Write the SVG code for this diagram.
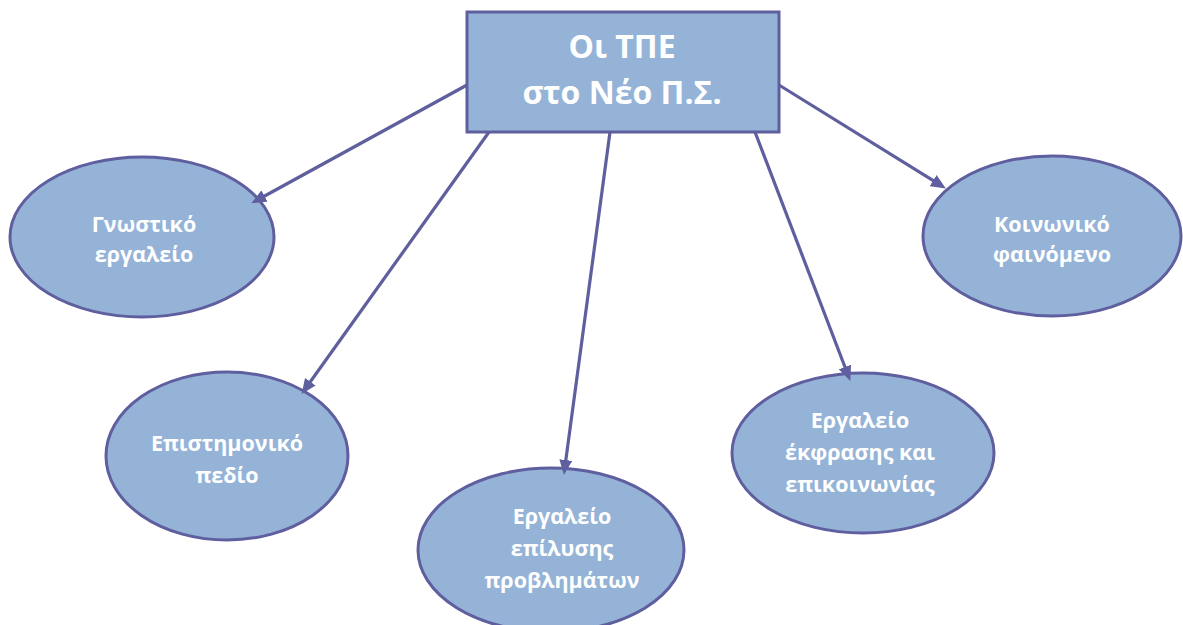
<svg xmlns="http://www.w3.org/2000/svg" width="1183" height="625" viewBox="0 0 1183 625">
<style>
.node{fill:#95b3d7;stroke:#5f5e9e;stroke-width:3}
.lbl{font-family:"Open Sans","Noto Sans","Liberation Sans",sans-serif;font-weight:bold;fill:#ffffff;text-anchor:middle}
.s{font-size:21.5px}
.b{font-size:32px}
.conn line{stroke:#5f5e9e;stroke-width:3.2;marker-end:url(#arr)}
</style>
<defs>
<marker id="arr" markerUnits="userSpaceOnUse" viewBox="0 0 15 13" refX="4" refY="6.5" markerWidth="15" markerHeight="13" orient="auto">
<path d="M0,0 L15,6.5 L0,13 z" fill="#5f5e9e"/>
</marker>
</defs>
<rect width="1183" height="625" fill="#ffffff"/>
<g id="n-main">
<rect class="node" x="467" y="12" width="312" height="120"/>
<text class="lbl b" x="622" y="58">Οι ΤΠΕ</text>
<text class="lbl b" x="622" y="104">στο Νέο Π.Σ.</text>
</g>
<g id="n-gnostiko">
<ellipse class="node" cx="142" cy="237" rx="132" ry="80"/>
<text class="lbl s" x="144" y="232">Γνωστικό</text>
<text class="lbl s" x="144" y="262">εργαλείο</text>
</g>
<g id="n-epistimoniko">
<ellipse class="node" cx="227" cy="456" rx="121" ry="84"/>
<text class="lbl s" x="227" y="451">Επιστημονικό</text>
<text class="lbl s" x="227" y="483">πεδίο</text>
</g>
<g id="n-epilysi">
<ellipse class="node" cx="551" cy="550" rx="133" ry="82"/>
<text class="lbl s" x="562" y="524">Εργαλείο</text>
<text class="lbl s" x="562" y="556">επίλυσης</text>
<text class="lbl s" x="562" y="588">προβλημάτων</text>
</g>
<g id="n-ekfrasi">
<ellipse class="node" cx="863" cy="453" rx="131" ry="80"/>
<text class="lbl s" x="860" y="428">Εργαλείο</text>
<text class="lbl s" x="860" y="460">έκφρασης και</text>
<text class="lbl s" x="860" y="492">επικοινωνίας</text>
</g>
<g id="n-koinoniko">
<ellipse class="node" cx="1052" cy="236" rx="129" ry="80"/>
<text class="lbl s" x="1052" y="232">Κοινωνικό</text>
<text class="lbl s" x="1052" y="262">φαινόμενο</text>
</g>
<g id="connectors" class="conn">
<line x1="467" y1="85" x2="261" y2="198"/>
<line x1="489" y1="132" x2="308" y2="385"/>
<line x1="610" y1="132" x2="565.3" y2="464"/>
<line x1="755" y1="132" x2="846.4" y2="370.7"/>
<line x1="779" y1="85" x2="936.5" y2="182.7"/>
</g>
</svg>
